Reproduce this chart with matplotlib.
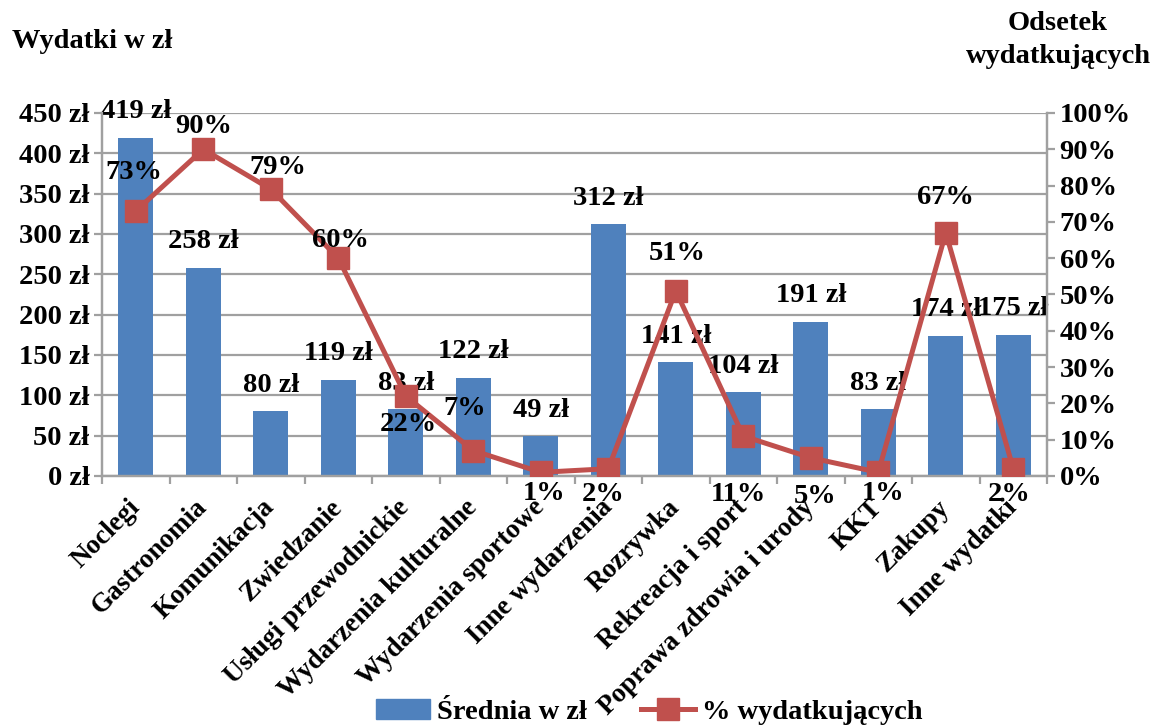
import numpy as np
import matplotlib
matplotlib.use("Agg")
import matplotlib.pyplot as plt
import matplotlib.transforms as mtransforms
from matplotlib.lines import Line2D
from matplotlib.patches import Patch

categories = ["Noclegi", "Gastronomia", "Komunikacja", "Zwiedzanie",
              "Usługi przewodnickie", "Wydarzenia kulturalne", "Wydarzenia sportowe",
              "Inne wydarzenia", "Rozrywka", "Rekreacja i sport",
              "Poprawa zdrowia i urody", "KKT", "Zakupy", "Inne wydatki"]
avg_spend = [419, 258, 80, 119, 83, 122, 49, 312, 141, 104, 191, 83, 174, 175]
pct_spending = [73, 90, 79, 60, 22, 7, 1, 2, 51, 11, 5, 1, 67, 2]

# label offsets for the % labels (pixels), placed by hand like in the source
pct_off = [(-2, 38), (0, 23), (7, 22), (2, 18), (3, -28), (-9, 42), (3, -21),
           (-5, -26), (1, 37), (-5, -58), (4, -39), (5, -21), (0, 35), (-4, -26)]

blue = "#4F81BD"
red = "#C0504D"
grid_c = "#A0A0A0"

plt.rcParams["font.family"] = ["Liberation Serif", "DejaVu Serif"]
plt.rcParams["font.weight"] = "bold"
fs = 20.5

fig = plt.figure(figsize=(11.6, 7.27), dpi=100)
ax = fig.add_axes([0.088, 0.3453, 0.8146, 0.4993])
ax2 = ax.twinx()

x = np.arange(len(categories))
ax.bar(x, avg_spend, width=0.52, color=blue, zorder=2)
ax.set_xlim(-0.5, len(categories) - 0.5)
ax.set_ylim(0, 450)
ax.set_yticks(np.arange(0, 451, 50))
ax.set_yticklabels([f"{v} zł" for v in range(0, 451, 50)], fontsize=fs, fontweight="bold")
ax.yaxis.grid(True, color=grid_c, linewidth=1.6, zorder=0)
ax.set_axisbelow(True)

ax.set_xticks(x)
ax.set_xticklabels(categories, rotation=45, ha="right", va="center",
                   rotation_mode="anchor", fontsize=19.5, fontweight="bold")
shift = mtransforms.ScaledTranslation(6 / 100, 0, fig.dpi_scale_trans)
for lbl in ax.get_xticklabels():
    lbl.set_transform(lbl.get_transform() + shift)
ax.set_xticks(np.arange(-0.5, len(categories), 1), minor=True)
ax.tick_params(axis="x", which="major", length=0, pad=20)
ax.tick_params(axis="x", which="minor", length=6, color=grid_c, width=1.6)
ax.tick_params(axis="y", length=6, color=grid_c, width=1.6, pad=3)

for v, xi in zip(avg_spend, x):
    ax.annotate(f"{v} zł", (xi, v), xytext=(0, 26), textcoords="offset pixels",
                ha="center", va="center", fontsize=fs, fontweight="bold")

ax2.plot(x, pct_spending, color=red, linewidth=3.6, marker="s", markersize=16,
         zorder=3)
ax2.set_ylim(0, 100)
ax2.set_yticks(np.arange(0, 101, 10))
ax2.set_yticklabels([f"{v}%" for v in range(0, 101, 10)], fontsize=fs, fontweight="bold")
ax2.tick_params(axis="y", length=6, color=grid_c, width=1.6, pad=3)

for v, xi, (dx, dy) in zip(pct_spending, x, pct_off):
    ax2.annotate(f"{v}%", (xi, v), xytext=(dx, dy), textcoords="offset pixels",
                 ha="center", va="center", fontsize=fs, fontweight="bold")

for a in (ax, ax2):
    a.spines["top"].set_visible(False)
    for s in ("left", "right", "bottom"):
        a.spines[s].set_color(grid_c)
        a.spines[s].set_linewidth(1.6)

fig.text(12 / 1160, 1 - 42 / 727, "Wydatki w zł", fontsize=20.5, fontweight="bold",
         ha="left", va="center")
fig.text(1058 / 1160, 1 - 40 / 727, "Odsetek\nwydatkujących", fontsize=20.5,
         fontweight="bold", ha="center", va="center", linespacing=1.45)

handles = [Patch(color=blue),
           Line2D([], [], color=red, linewidth=3.6, marker="s", markersize=16)]
fig.legend(handles, ["Średnia w zł", "% wydatkujących"], loc="center",
           bbox_to_anchor=(649 / 1160, 1 - 712 / 727), ncol=2, frameon=False,
           prop={"size": fs, "weight": "bold"}, handlelength=1.9,
           handletextpad=0.25, columnspacing=1.9)

fig.savefig("out.png", dpi=100)
